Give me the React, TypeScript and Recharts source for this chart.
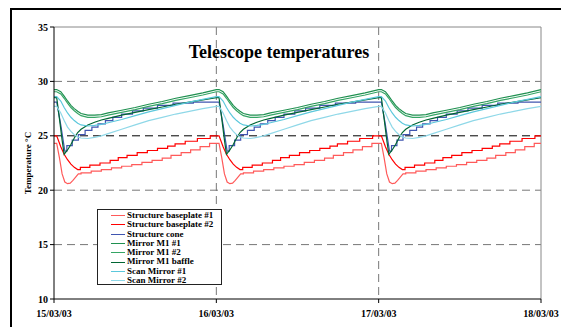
import React from 'react';
import { LineChart, Line, XAxis, YAxis, CartesianGrid, ReferenceLine, Legend } from 'recharts';

// three days, hours since 15/03/03 00:00
const days = [0, 1, 2];
const dateTicks = [0, 24, 48, 72];
const dateLabels = ['15/03/03', '16/03/03', '17/03/03', '18/03/03'];
const tempTicks = [10, 15, 20, 25, 30, 35];

// smooth sensors, hours after midnight (same daily cycle each day)
const curveHours = [0, 0.4, 1, 1.5, 2, 2.5, 3, 3.5, 4, 5, 6, 7, 8, 10, 12, 14, 16, 18, 20, 22, 24];
const mirrorM1a = [29.25, 29.25, 29.05, 28.65, 28.2, 27.8, 27.5, 27.25, 27.05, 26.9, 26.9, 26.95, 27.1, 27.35, 27.6, 27.9, 28.15, 28.45, 28.7, 28.95, 29.25];
const mirrorM1b = [29.05, 29.05, 28.85, 28.45, 28.0, 27.6, 27.3, 27.05, 26.85, 26.7, 26.7, 26.75, 26.9, 27.15, 27.4, 27.7, 27.95, 28.25, 28.5, 28.75, 29.05];
const scanMirror1 = [28.6, 28.6, 28.2, 27.6, 27.1, 26.7, 26.4, 26.15, 26.0, 25.9, 25.95, 26.05, 26.2, 26.5, 26.85, 27.2, 27.5, 27.8, 28.1, 28.35, 28.6];
const scanMirror2 = [27.7, 27.7, 27.1, 26.4, 25.8, 25.4, 25.1, 24.9, 24.8, 24.75, 24.85, 25.0, 25.2, 25.6, 26.0, 26.4, 26.7, 27.0, 27.25, 27.5, 27.7];

const baffleHours = [0, 0.4, 0.8, 1.2, 1.5, 2, 2.5, 3, 3.5, 4, 5, 6, 7, 8, 10, 12, 14, 16, 18, 20, 22, 24];
const baffle = [28.5, 28.5, 26.6, 24.6, 23.3, 23.7, 24.2, 24.8, 25.3, 25.6, 26.0, 26.25, 26.45, 26.6, 26.9, 27.15, 27.4, 27.65, 27.9, 28.1, 28.3, 28.5];

// stepped sensors: fall after midnight, then quantised steps
const coneDropHours = [0, 0.4, 1.0, 1.6];
const coneDrop = [28.1, 28.1, 26.0, 23.6];
const coneStepHours = [1.9, 2.7, 3.6, 4.6, 5.6, 6.5, 7.6, 8.7, 10.0, 11.6, 13.2, 15.3, 17.6, 20.6];
const coneSteps = [24.1, 24.6, 25.1, 25.5, 25.8, 26.1, 26.4, 26.7, 27.0, 27.3, 27.55, 27.8, 28.0, 28.1];

const base2DropHours = [0, 0.4, 1, 1.5, 2, 2.5, 3, 3.5];
const base2Drop = [25.0, 25.0, 24.0, 23.3, 22.8, 22.4, 22.1, 21.9];
const base2StepHours = [3.9, 5.3, 6.8, 8.3, 9.5, 10.8, 12.3, 13.8, 15.3, 16.8, 17.9, 19.4, 21.2, 23.1];
const base2Steps = [22.1, 22.3, 22.5, 22.75, 23.0, 23.2, 23.45, 23.65, 23.85, 24.05, 24.25, 24.5, 24.75, 25.0];

const base1DropHours = [0, 0.4, 0.8, 1.2, 1.6, 2.0, 2.4, 2.8, 3.2, 3.6];
const base1Drop = [24.3, 24.3, 23.0, 21.5, 20.75, 20.6, 20.65, 20.9, 21.2, 21.5];
const base1StepHours = [4.0, 5.5, 7, 8.5, 10, 11.5, 13, 14.5, 16, 17.3, 18.8, 20.2, 21.6, 23.0];
const base1Steps = [21.6, 21.75, 21.9, 22.05, 22.2, 22.35, 22.55, 22.75, 22.95, 23.2, 23.45, 23.7, 24.0, 24.3];

type Pt = { t: number; v: number };

const smooth = (hours: number[], vals: number[]): Pt[] =>
  days.flatMap((d) => hours.map((h, i) => ({ t: d * 24 + h, v: vals[i] })));

const stepped = (dh: number[], dv: number[], sh: number[], sv: number[]): Pt[] =>
  days.flatMap((d) => {
    const pts: Pt[] = dh.map((h, i) => ({ t: d * 24 + h, v: dv[i] }));
    sh.forEach((h, i) => {
      const prev = i === 0 ? dv[dv.length - 1] : sv[i - 1];
      pts.push({ t: d * 24 + h, v: prev }, { t: d * 24 + h, v: sv[i] });
    });
    pts.push({ t: d * 24 + 24, v: sv[sv.length - 1] });
    return pts;
  });

const series = [
  { name: 'Structure baseplate #1', color: '#ff5a5a', data: stepped(base1DropHours, base1Drop, base1StepHours, base1Steps) },
  { name: 'Structure baseplate #2', color: '#ff0000', data: stepped(base2DropHours, base2Drop, base2StepHours, base2Steps) },
  { name: 'Structure cone', color: '#4055b0', data: stepped(coneDropHours, coneDrop, coneStepHours, coneSteps) },
  { name: 'Mirror M1 #1', color: '#1f9050', data: smooth(curveHours, mirrorM1a) },
  { name: 'Mirror M1 #2', color: '#35a565', data: smooth(curveHours, mirrorM1b) },
  { name: 'Mirror M1 baffle', color: '#006633', data: smooth(baffleHours, baffle) },
  { name: 'Scan Mirror #1', color: '#5cc8dc', data: smooth(curveHours, scanMirror1) },
  { name: 'Scan Mirror #2', color: '#8fd8e8', data: smooth(curveHours, scanMirror2) },
];

const serif = '"Liberation Serif", "Times New Roman", serif';
const tickStyle = { fontFamily: serif, fontWeight: 'bold' as const, fontSize: 10, fill: '#000' };

// keep the legend in series order (Recharts sorts its payload by name)
const renderLegend = () => (
  <div
    style={{
      border: '1px solid #222',
      background: '#fff',
      width: 125,
      height: 76,
      boxSizing: 'border-box',
      padding: '1px 0 0 13px',
      fontFamily: serif,
      fontWeight: 'bold',
      fontSize: 9,
    }}
  >
    {series.map((s) => (
      <div key={s.name} style={{ display: 'flex', alignItems: 'center', height: 9.3, lineHeight: '9.3px' }}>
        <span style={{ width: 14, height: 0, borderTop: `1.5px solid ${s.color}`, marginRight: 2 }} />
        <span>{s.name}</span>
      </div>
    ))}
  </div>
);

export default function App() {
  return (
    <div style={{ position: 'fixed', left: 0, top: 0, width: 561, height: 327, overflow: 'hidden', background: '#fff' }}>
      <div style={{ position: 'absolute', left: 10, top: 8, width: 700, height: 500, border: '2px solid #000' }} />
      <LineChart width={561} height={327} margin={{ top: 27, right: 20, bottom: 0, left: 18 }}>
        <CartesianGrid stroke="#777" strokeDasharray="8 5" horizontalValues={[15, 20, 30]} verticalValues={[24, 48]} />
        <ReferenceLine y={25} stroke="#000" strokeDasharray="8 5" />
        <ReferenceLine y={35} stroke="#888" />
        <ReferenceLine x={72} stroke="#888" />
        <XAxis
          type="number"
          dataKey="t"
          domain={[0, 72]}
          ticks={dateTicks}
          tickFormatter={(v: number) => dateLabels[dateTicks.indexOf(v)]}
          tick={tickStyle}
          tickSize={4}
          tickMargin={7}
          height={28}
          stroke="#000"
          allowDuplicatedCategory={false}
        />
        <YAxis
          type="number"
          domain={[10, 35]}
          ticks={tempTicks}
          tick={tickStyle}
          tickSize={4}
          width={36}
          stroke="#000"
        />
        <Legend
          layout="vertical"
          align="center"
          verticalAlign="middle"
          content={renderLegend}
          wrapperStyle={{ left: 97, top: 209, width: 125 }}
        />
        {series.map((s) => (
          <Line
            key={s.name}
            name={s.name}
            data={s.data}
            dataKey="v"
            type="linear"
            stroke={s.color}
            strokeWidth={1.2}
            dot={false}
            isAnimationActive={false}
          />
        ))}
      </LineChart>
      <div
        style={{
          position: 'absolute',
          left: 179,
          width: 200,
          top: 43,
          textAlign: 'center',
          fontFamily: serif,
          fontWeight: 'bold',
          fontSize: 18,
          lineHeight: '18px',
        }}
      >
        Telescope temperatures
      </div>
      <div
        style={{
          position: 'absolute',
          left: 28,
          top: 163,
          transform: 'translate(-50%, -50%) rotate(-90deg)',
          fontFamily: serif,
          fontWeight: 'bold',
          fontSize: 9,
          whiteSpace: 'nowrap',
        }}
      >
        Temperature °C
      </div>
    </div>
  );
}
